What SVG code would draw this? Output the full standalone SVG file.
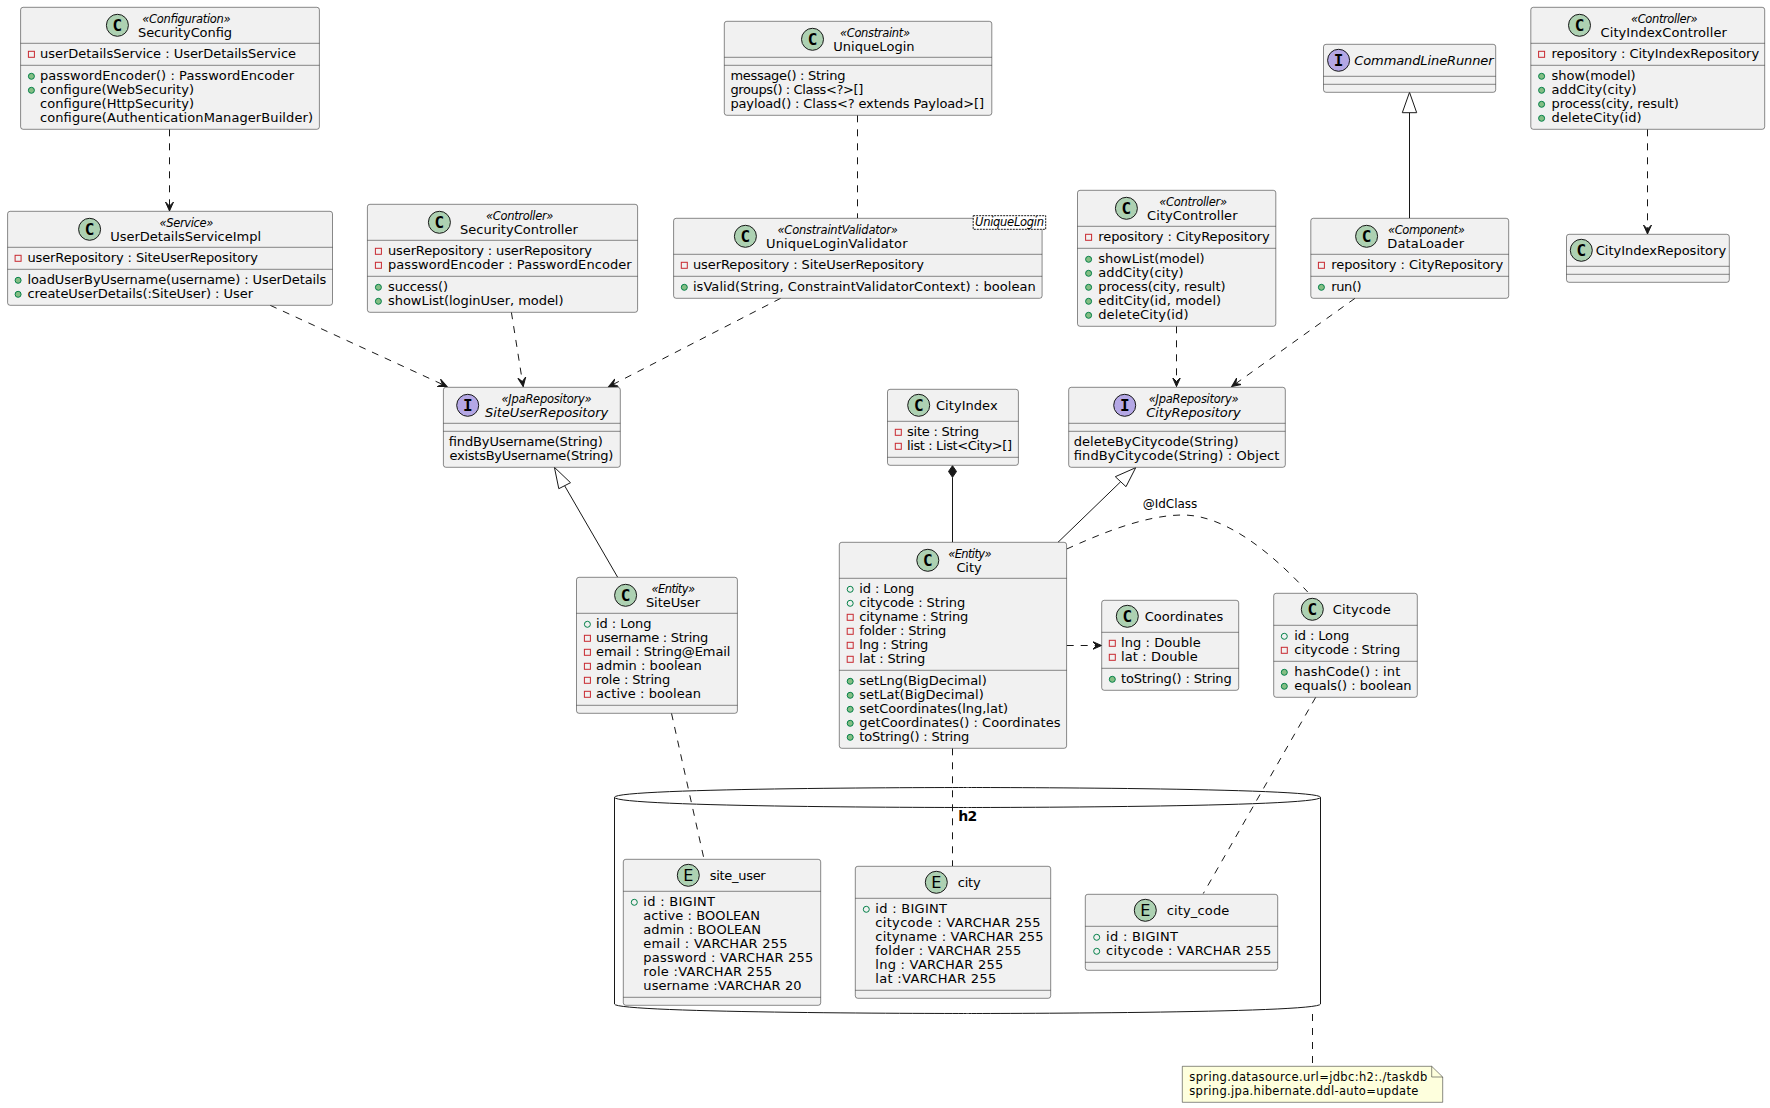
<svg xmlns="http://www.w3.org/2000/svg" width="1770" height="1108" viewBox="0 0 1770 1108">
<defs>
<marker id="open" markerUnits="userSpaceOnUse" markerWidth="10" markerHeight="10" refX="9" refY="5" orient="auto"><path d="M0,1 L9,5 L0,9 L4,5 Z" fill="#181818" stroke="#181818" stroke-width="1"/></marker>
</defs>
<style>
text{font-family:"DejaVu Sans",sans-serif;fill:#000}
.b{fill:#F1F1F1;stroke:#181818;stroke-width:.5}
.l{fill:none;stroke:#181818;stroke-width:.5}
.t{font-size:13px}
.n{font-size:13px}
.s{font-size:11.5px;font-style:italic}
.a{font-style:italic}
.c{fill:#ADD1B2;stroke:#181818;stroke-width:1}
.f{fill:#B4A7E5;stroke:#181818;stroke-width:1}
.g{font-family:"DejaVu Sans Mono",monospace;font-size:16px;font-weight:bold;text-anchor:middle}
.e{font-family:"DejaVu Sans",sans-serif;font-size:16px;text-anchor:middle}
.pr{fill:none;stroke:#C82930;stroke-width:1}
.pu{fill:#84BE84;stroke:#038048;stroke-width:1}
.pf{fill:none;stroke:#038048;stroke-width:1}
.solid{fill:none;stroke:#181818;stroke-width:1}
.dash{fill:none;stroke:#181818;stroke-width:1;stroke-dasharray:7 7}
.arrow{marker-end:url(#open)}
</style>

<g id="h2">
<path d="M614.5,797.3 C614.5,787.5 967.5,787.5 967.5,787.5 C967.5,787.5 1320.5,787.5 1320.5,797.3 L1320.5,1004 C1320.5,1013.5 967.5,1013.5 967.5,1013.5 C967.5,1013.5 614.5,1013.5 614.5,1004 Z" fill="#fff" stroke="#181818" stroke-width="1"/>
<path d="M614.5,797.3 C614.5,807.5 967.5,807.5 967.5,807.5 C967.5,807.5 1320.5,807.5 1320.5,797.3" fill="none" stroke="#181818" stroke-width="1"/>
<text x="958.3" y="820.7" font-size="14" font-weight="bold" textLength="19" lengthAdjust="spacing">h2</text>
</g>

<g id="connectors">
<path class="dash arrow" d="M169.5,129.3 L169.5,211"/>
<path class="dash arrow" d="M1647.5,129.3 L1647.5,234"/>
<path class="dash" d="M857.5,115.3 L857.5,218.3"/>
<path class="solid" d="M1409.5,218.3 L1409.5,112.7"/>
<polygon points="1409.5,92.3 1402.3,112.7 1416.7,112.7" fill="#fff" stroke="#181818" stroke-width="1"/>
<path class="dash arrow" d="M270.2,305.3 L447,386.5"/>
<path class="dash arrow" d="M511.4,312.3 L523.2,386.5"/>
<path class="dash arrow" d="M780.7,298.3 L608.6,386.7"/>
<path class="dash arrow" d="M1176.5,326.3 L1176.5,386.5"/>
<path class="dash arrow" d="M1355,298.3 L1231.7,386.5"/>
<path class="solid" d="M617.7,577.3 L564.6,485.7"/>
<polygon points="554.4,467.3 558.8,488.7 570.5,482.7" fill="#fff" stroke="#181818" stroke-width="1"/>
<path class="solid" d="M952.5,542.3 L952.5,477.3"/>
<polygon points="952.5,465.7 956.5,471.5 952.5,477.3 948.5,471.5" fill="#181818" stroke="#181818" stroke-width="1"/>
<path class="solid" d="M1058,542.3 L1120.7,481.7"/>
<polygon points="1135.7,467.7 1115.3,476.7 1126,486.7" fill="#fff" stroke="#181818" stroke-width="1"/>
<path class="dash" d="M1066.7,549 C1100,534 1145,515 1183,515 C1225,515 1272,553 1307.7,592"/>
<text x="1142.7" y="508.3" font-size="12" textLength="54.6" lengthAdjust="spacing">@IdClass</text>
<path class="dash arrow" d="M1066.7,645.5 L1101.5,645.5"/>
<path class="dash" d="M671.5,713.3 L704,859"/>
<path class="dash" d="M952.5,748.3 L952.5,866"/>
<path class="dash" d="M1315.7,697.3 L1203.3,893.5"/>
<path class="dash" d="M1312.5,1014 L1312.5,1066.3"/>
</g>

<g id="SecurityConfig">
<rect class="b" x="20.6" y="7.3" width="298.8" height="122" rx="2.5"/>
<path class="l" d="M20.6,43.3H319.4M20.6,65.3H319.4"/>
<circle class="c" cx="117.4" cy="25.3" r="11"/><text class="g" x="117.4" y="30.8">C</text>
<text class="s" x="142.3" y="22.5" textLength="88.3">«Configuration»</text>
<text class="n" x="138" y="36.6" textLength="94">SecurityConfig</text>
<rect class="pr" x="28.4" y="51.3" width="6" height="6"/>
<text class="t" x="40" y="58.4" textLength="256">userDetailsService : UserDetailsService</text>
<circle class="pu" cx="31.4" cy="76.3" r="3"/>
<text class="t" x="40" y="80.4" textLength="254">passwordEncoder() : PasswordEncoder</text>
<circle class="pu" cx="31.4" cy="90.3" r="3"/>
<text class="t" x="40" y="94.4" textLength="154">configure(WebSecurity)</text>
<text class="t" x="40" y="108.4" textLength="154">configure(HttpSecurity)</text>
<text class="t" x="40" y="122.4" textLength="273">configure(AuthenticationManagerBuilder)</text>
</g>

<g id="UserDetailsServiceImpl">
<rect class="b" x="7.6" y="211.3" width="324.9" height="94" rx="2.5"/>
<path class="l" d="M7.6,247.3H332.5M7.6,269.3H332.5"/>
<circle class="c" cx="89.6" cy="229.3" r="11"/><text class="g" x="89.6" y="234.8">C</text>
<text class="s" x="159.5" y="226.5" textLength="53.9">«Service»</text>
<text class="n" x="110.3" y="240.6" textLength="150.7">UserDetailsServiceImpl</text>
<rect class="pr" x="15.1" y="255.3" width="6" height="6"/>
<text class="t" x="27.4" y="262.4" textLength="230.6">userRepository : SiteUserRepository</text>
<circle class="pu" cx="18.1" cy="280.3" r="3"/>
<text class="t" x="27.4" y="284.4" textLength="299">loadUserByUsername(username) : UserDetails</text>
<circle class="pu" cx="18.1" cy="294.3" r="3"/>
<text class="t" x="27.4" y="298.4" textLength="225.6">createUserDetails(:SiteUser) : User</text>
</g>

<g id="SecurityController">
<rect class="b" x="367.4" y="204.3" width="270.2" height="108" rx="2.5"/>
<path class="l" d="M367.4,240.3H637.6M367.4,276.3H637.6"/>
<circle class="c" cx="439.4" cy="222.3" r="11"/><text class="g" x="439.4" y="227.8">C</text>
<text class="s" x="486" y="219.5" textLength="67.4">«Controller»</text>
<text class="n" x="460" y="233.6" textLength="117.9">SecurityController</text>
<rect class="pr" x="375.4" y="248.3" width="6" height="6"/>
<text class="t" x="388" y="255.4" textLength="204">userRepository : userRepository</text>
<rect class="pr" x="375.4" y="262.3" width="6" height="6"/>
<text class="t" x="388" y="269.4" textLength="243.7">passwordEncoder : PasswordEncoder</text>
<circle class="pu" cx="378.4" cy="287.3" r="3"/>
<text class="t" x="388" y="291.4" textLength="60">success()</text>
<circle class="pu" cx="378.4" cy="301.3" r="3"/>
<text class="t" x="388" y="305.4" textLength="175.5">showList(loginUser, model)</text>
</g>

<g id="UniqueLogin">
<rect class="b" x="724.3" y="21.3" width="267.5" height="94" rx="2.5"/>
<path class="l" d="M724.3,57.3H991.8M724.3,65.3H991.8"/>
<circle class="c" cx="812.5" cy="39.3" r="11"/><text class="g" x="812.5" y="44.8">C</text>
<text class="s" x="840" y="36.5" textLength="70">«Constraint»</text>
<text class="n" x="833.2" y="50.6" textLength="81.4">UniqueLogin</text>
<text class="t" x="730.4" y="80.4" textLength="115">message() : String</text>
<text class="t" x="730.4" y="94.4" textLength="132.9">groups() : Class&lt;?&gt;[]</text>
<text class="t" x="730.4" y="108.4" textLength="253.6">payload() : Class&lt;? extends Payload&gt;[]</text>
</g>

<g id="UniqueLoginValidator">
<rect class="b" x="673.6" y="218.3" width="368.5" height="80" rx="2.5"/>
<path class="l" d="M673.6,254.3H1042.1M673.6,276.3H1042.1"/>
<circle class="c" cx="745.4" cy="236.3" r="11"/><text class="g" x="745.4" y="241.8">C</text>
<text class="s" x="777.5" y="233.5" textLength="120.4">«ConstraintValidator»</text>
<text class="n" x="766" y="247.6" textLength="141.5">UniqueLoginValidator</text>
<rect class="pr" x="681.3" y="262.3" width="6" height="6"/>
<text class="t" x="692.9" y="269.4" textLength="231">userRepository : SiteUserRepository</text>
<circle class="pu" cx="684.3" cy="287.3" r="3"/>
<text class="t" x="692.9" y="291.4" textLength="342.9">isValid(String, ConstraintValidatorContext) : boolean</text>
<rect x="973.2" y="215.7" width="72.5" height="13.6" fill="#fff" stroke="#181818" stroke-width="1" stroke-dasharray="2 1"/>
<text class="s" x="975" y="226.2" textLength="69">UniqueLogin</text>
</g>

<g id="CityController">
<rect class="b" x="1077.5" y="190.3" width="198.3" height="136" rx="2.5"/>
<path class="l" d="M1077.5,226.3H1275.8M1077.5,248.3H1275.8"/>
<circle class="c" cx="1126.4" cy="208.3" r="11"/><text class="g" x="1126.4" y="213.8">C</text>
<text class="s" x="1159.3" y="205.5" textLength="67.7">«Controller»</text>
<text class="n" x="1147.1" y="219.6" textLength="90.4">CityController</text>
<rect class="pr" x="1085.6" y="234.3" width="6" height="6"/>
<text class="t" x="1098.2" y="241.4" textLength="171.6">repository : CityRepository</text>
<circle class="pu" cx="1088.6" cy="259.3" r="3"/>
<text class="t" x="1098.2" y="263.4" textLength="106.4">showList(model)</text>
<circle class="pu" cx="1088.6" cy="273.3" r="3"/>
<text class="t" x="1098.2" y="277.4" textLength="85.4">addCity(city)</text>
<circle class="pu" cx="1088.6" cy="287.3" r="3"/>
<text class="t" x="1098.2" y="291.4" textLength="127.3">process(city, result)</text>
<circle class="pu" cx="1088.6" cy="301.3" r="3"/>
<text class="t" x="1098.2" y="305.4" textLength="123">editCity(id, model)</text>
<circle class="pu" cx="1088.6" cy="315.3" r="3"/>
<text class="t" x="1098.2" y="319.4" textLength="90.4">deleteCity(id)</text>
</g>

<g id="CommandLineRunner">
<rect class="b" x="1323.5" y="44.3" width="172.2" height="48" rx="2.5"/>
<path class="l" d="M1323.5,76.3H1495.7M1323.5,84.3H1495.7"/>
<circle class="f" cx="1338.6" cy="60.3" r="11"/><text class="g" x="1338.6" y="65.8">I</text>
<text class="n a" x="1354.3" y="64.8" textLength="139.3">CommandLineRunner</text>
</g>

<g id="DataLoader">
<rect class="b" x="1310.8" y="218.3" width="197.9" height="80" rx="2.5"/>
<path class="l" d="M1310.8,254.3H1508.7M1310.8,276.3H1508.7"/>
<circle class="c" cx="1366.6" cy="236.3" r="11"/><text class="g" x="1366.6" y="241.8">C</text>
<text class="s" x="1388" y="233.5" textLength="76.8">«Component»</text>
<text class="n" x="1387.3" y="247.6" textLength="76.8">DataLoader</text>
<rect class="pr" x="1318.4" y="262.3" width="6" height="6"/>
<text class="t" x="1331.2" y="269.4" textLength="171.9">repository : CityRepository</text>
<circle class="pu" cx="1321.4" cy="287.3" r="3"/>
<text class="t" x="1331.2" y="291.4" textLength="30.5">run()</text>
</g>

<g id="CityIndexController">
<rect class="b" x="1530.8" y="7.3" width="233.9" height="122" rx="2.5"/>
<path class="l" d="M1530.8,43.3H1764.7M1530.8,65.3H1764.7"/>
<circle class="c" cx="1579.5" cy="25.3" r="11"/><text class="g" x="1579.5" y="30.8">C</text>
<text class="s" x="1631" y="22.5" textLength="66.7">«Controller»</text>
<text class="n" x="1600.6" y="36.6" textLength="126.2">CityIndexController</text>
<rect class="pr" x="1538.6" y="51.3" width="6" height="6"/>
<text class="t" x="1551.5" y="58.4" textLength="207.6">repository : CityIndexRepository</text>
<circle class="pu" cx="1541.6" cy="76.3" r="3"/>
<text class="t" x="1551.5" y="80.4" textLength="84.2">show(model)</text>
<circle class="pu" cx="1541.6" cy="90.3" r="3"/>
<text class="t" x="1551.5" y="94.4" textLength="85.2">addCity(city)</text>
<circle class="pu" cx="1541.6" cy="104.3" r="3"/>
<text class="t" x="1551.5" y="108.4" textLength="127.3">process(city, result)</text>
<circle class="pu" cx="1541.6" cy="118.3" r="3"/>
<text class="t" x="1551.5" y="122.4" textLength="90.1">deleteCity(id)</text>
</g>

<g id="CityIndexRepository">
<rect class="b" x="1566.5" y="234.3" width="162.8" height="48" rx="2.5"/>
<path class="l" d="M1566.5,266.3H1729.3M1566.5,274.3H1729.3"/>
<circle class="c" cx="1581.3" cy="250.3" r="11"/><text class="g" x="1581.3" y="255.8">C</text>
<text class="n" x="1595.7" y="254.8" textLength="130.4">CityIndexRepository</text>
</g>

<g id="SiteUserRepository">
<rect class="b" x="443.4" y="387.3" width="176.9" height="80" rx="2.5"/>
<path class="l" d="M443.4,423.3H620.3M443.4,431.3H620.3"/>
<circle class="f" cx="467.7" cy="405.3" r="11"/><text class="g" x="467.7" y="410.8">I</text>
<text class="s" x="501.5" y="402.5" textLength="90.2">«JpaRepository»</text>
<text class="n a" x="485" y="416.6" textLength="123.2">SiteUserRepository</text>
<text class="t" x="448.6" y="446.4" textLength="154">findByUsername(String)</text>
<text class="t" x="449.4" y="460.4" textLength="164">existsByUsername(String)</text>
</g>

<g id="CityIndex">
<rect class="b" x="887.5" y="389.3" width="130.9" height="76" rx="2.5"/>
<path class="l" d="M887.5,421.3H1018.4M887.5,457.3H1018.4"/>
<circle class="c" cx="918.7" cy="405.3" r="11"/><text class="g" x="918.7" y="410.8">C</text>
<text class="n" x="936" y="409.8" textLength="61.6">CityIndex</text>
<rect class="pr" x="895.3" y="429.3" width="6" height="6"/>
<text class="t" x="907" y="436.4" textLength="72">site : String</text>
<rect class="pr" x="895.3" y="443.3" width="6" height="6"/>
<text class="t" x="907" y="450.4" textLength="105">list : List&lt;City&gt;[]</text>
</g>

<g id="City">
<rect class="b" x="839.3" y="542.3" width="227.3" height="206" rx="2.5"/>
<path class="l" d="M839.3,578.3H1066.6M839.3,670.3H1066.6"/>
<circle class="c" cx="927.8" cy="560.3" r="11"/><text class="g" x="927.8" y="565.8">C</text>
<text class="s" x="948.2" y="557.5" textLength="43.4">«Entity»</text>
<text class="n" x="956.4" y="571.6" textLength="25.2">City</text>
<circle class="pf" cx="850.2" cy="589.3" r="3"/>
<text class="t" x="859.3" y="593.4" textLength="55">id : Long</text>
<circle class="pf" cx="850.2" cy="603.3" r="3"/>
<text class="t" x="859.3" y="607.4" textLength="106">citycode : String</text>
<rect class="pr" x="847.2" y="614.3" width="6" height="6"/>
<text class="t" x="859.3" y="621.4" textLength="109">cityname : String</text>
<rect class="pr" x="847.2" y="628.3" width="6" height="6"/>
<text class="t" x="859.3" y="635.4" textLength="87">folder : String</text>
<rect class="pr" x="847.2" y="642.3" width="6" height="6"/>
<text class="t" x="859.3" y="649.4" textLength="69">lng : String</text>
<rect class="pr" x="847.2" y="656.3" width="6" height="6"/>
<text class="t" x="859.3" y="663.4" textLength="66">lat : String</text>
<circle class="pu" cx="850.2" cy="681.3" r="3"/>
<text class="t" x="859.3" y="685.4" textLength="127.5">setLng(BigDecimal)</text>
<circle class="pu" cx="850.2" cy="695.3" r="3"/>
<text class="t" x="859.3" y="699.4" textLength="124.5">setLat(BigDecimal)</text>
<circle class="pu" cx="850.2" cy="709.3" r="3"/>
<text class="t" x="859.3" y="713.4" textLength="148.8">setCoordinates(lng,lat)</text>
<circle class="pu" cx="850.2" cy="723.3" r="3"/>
<text class="t" x="859.3" y="727.4" textLength="201.2">getCoordinates() : Coordinates</text>
<circle class="pu" cx="850.2" cy="737.3" r="3"/>
<text class="t" x="859.3" y="741.4" textLength="110">toString() : String</text>
</g>

<g id="SiteUser">
<rect class="b" x="576.5" y="577.3" width="160.9" height="136" rx="2.5"/>
<path class="l" d="M576.5,613.3H737.4M576.5,705.3H737.4"/>
<circle class="c" cx="625.6" cy="595.3" r="11"/><text class="g" x="625.6" y="600.8">C</text>
<text class="s" x="651.6" y="592.5" textLength="43.4">«Entity»</text>
<text class="n" x="645.9" y="606.6" textLength="54.2">SiteUser</text>
<circle class="pf" cx="587.4" cy="624.3" r="3"/>
<text class="t" x="596" y="628.4" textLength="55.5">id : Long</text>
<rect class="pr" x="584.4" y="635.3" width="6" height="6"/>
<text class="t" x="596" y="642.4" textLength="112.3">username : String</text>
<rect class="pr" x="584.4" y="649.3" width="6" height="6"/>
<text class="t" x="596" y="656.4" textLength="134.4">email : String@Email</text>
<rect class="pr" x="584.4" y="663.3" width="6" height="6"/>
<text class="t" x="596" y="670.4" textLength="105.8">admin : boolean</text>
<rect class="pr" x="584.4" y="677.3" width="6" height="6"/>
<text class="t" x="596" y="684.4" textLength="74.2">role : String</text>
<rect class="pr" x="584.4" y="691.3" width="6" height="6"/>
<text class="t" x="596" y="698.4" textLength="105">active : boolean</text>
</g>

<g id="CityRepository">
<rect class="b" x="1068.7" y="387.3" width="216.6" height="80" rx="2.5"/>
<path class="l" d="M1068.7,423.3H1285.3M1068.7,431.3H1285.3"/>
<circle class="f" cx="1124.7" cy="405.3" r="11"/><text class="g" x="1124.7" y="410.8">I</text>
<text class="s" x="1148.7" y="402.5" textLength="90">«JpaRepository»</text>
<text class="n a" x="1146.3" y="416.6" textLength="94.4">CityRepository</text>
<text class="t" x="1073.7" y="446.4" textLength="165">deleteByCitycode(String)</text>
<text class="t" x="1073.7" y="460.4" textLength="205.7">findByCitycode(String) : Object</text>
</g>

<g id="Coordinates">
<rect class="b" x="1101.7" y="600.3" width="137" height="90" rx="2.5"/>
<path class="l" d="M1101.7,632.3H1238.7M1101.7,668.3H1238.7"/>
<circle class="c" cx="1127.3" cy="616.3" r="11"/><text class="g" x="1127.3" y="621.8">C</text>
<text class="n" x="1144.7" y="620.8" textLength="78.6">Coordinates</text>
<rect class="pr" x="1109.3" y="640.3" width="6" height="6"/>
<text class="t" x="1121" y="647.4" textLength="79.7">lng : Double</text>
<rect class="pr" x="1109.3" y="654.3" width="6" height="6"/>
<text class="t" x="1121" y="661.4" textLength="76.7">lat : Double</text>
<circle class="pu" cx="1112.3" cy="679.3" r="3"/>
<text class="t" x="1121" y="683.4" textLength="110.7">toString() : String</text>
</g>

<g id="Citycode">
<rect class="b" x="1273.7" y="593.3" width="143.6" height="104" rx="2.5"/>
<path class="l" d="M1273.7,625.3H1417.3M1273.7,661.3H1417.3"/>
<circle class="c" cx="1312.3" cy="609.3" r="11"/><text class="g" x="1312.3" y="614.8">C</text>
<text class="n" x="1332.7" y="613.8" textLength="58">Citycode</text>
<circle class="pf" cx="1284.3" cy="636.3" r="3"/>
<text class="t" x="1294.3" y="640.4" textLength="55">id : Long</text>
<rect class="pr" x="1281.3" y="647.3" width="6" height="6"/>
<text class="t" x="1294.3" y="654.4" textLength="106">citycode : String</text>
<circle class="pu" cx="1284.3" cy="672.3" r="3"/>
<text class="t" x="1294.3" y="676.4" textLength="106">hashCode() : int</text>
<circle class="pu" cx="1284.3" cy="686.3" r="3"/>
<text class="t" x="1294.3" y="690.4" textLength="117.3">equals() : boolean</text>
</g>

<g id="site_user">
<rect class="b" x="623.3" y="859.3" width="197.4" height="146" rx="2.5"/>
<path class="l" d="M623.3,891.3H820.7M623.3,997.3H820.7"/>
<circle class="c" cx="688.3" cy="875.3" r="11"/><text class="e" x="688.3" y="881">E</text>
<text class="n" x="709.7" y="879.8" textLength="56">site_user</text>
<circle class="pf" cx="634.3" cy="902.3" r="3"/>
<text class="t" x="643.3" y="906.4" textLength="71.7">id : BIGINT</text>
<text class="t" x="643.3" y="920.4" textLength="116.7">active : BOOLEAN</text>
<text class="t" x="643.3" y="934.4" textLength="117.7">admin : BOOLEAN</text>
<text class="t" x="643.3" y="948.4" textLength="144.3">email : VARCHAR 255</text>
<text class="t" x="643.3" y="962.4" textLength="170">password : VARCHAR 255</text>
<text class="t" x="643.3" y="976.4" textLength="129">role :VARCHAR 255</text>
<text class="t" x="643.3" y="990.4" textLength="158.3">username :VARCHAR 20</text>
</g>

<g id="city">
<rect class="b" x="855.3" y="866.3" width="195.4" height="132" rx="2.5"/>
<path class="l" d="M855.3,898.3H1050.7M855.3,990.3H1050.7"/>
<circle class="c" cx="936.3" cy="882.3" r="11"/><text class="e" x="936.3" y="888">E</text>
<text class="n" x="957.7" y="886.8" textLength="23">city</text>
<circle class="pf" cx="866.3" cy="909.3" r="3"/>
<text class="t" x="875.3" y="913.4" textLength="71.7">id : BIGINT</text>
<text class="t" x="875.3" y="927.4" textLength="165.3">citycode : VARCHAR 255</text>
<text class="t" x="875.3" y="941.4" textLength="168.3">cityname : VARCHAR 255</text>
<text class="t" x="875.3" y="955.4" textLength="146">folder : VARCHAR 255</text>
<text class="t" x="875.3" y="969.4" textLength="128">lng : VARCHAR 255</text>
<text class="t" x="875.3" y="983.4" textLength="121">lat :VARCHAR 255</text>
</g>

<g id="city_code">
<rect class="b" x="1085.3" y="894.3" width="192.4" height="76" rx="2.5"/>
<path class="l" d="M1085.3,926.3H1277.7M1085.3,962.3H1277.7"/>
<circle class="c" cx="1145.3" cy="910.3" r="11"/><text class="e" x="1145.3" y="916">E</text>
<text class="n" x="1166.7" y="914.8" textLength="62.6">city_code</text>
<circle class="pf" cx="1096.7" cy="937.3" r="3"/>
<text class="t" x="1106" y="941.4" textLength="72">id : BIGINT</text>
<circle class="pf" cx="1096.7" cy="951.3" r="3"/>
<text class="t" x="1106" y="955.4" textLength="165.3">citycode : VARCHAR 255</text>
</g>

<g id="note">
<path d="M1182.3,1066.3 H1431.7 L1442.7,1077 V1102.3 H1182.3 Z" fill="#FEFFDD" stroke="#181818" stroke-width=".5"/>
<path d="M1431.7,1066.3 V1077 H1442.7" fill="none" stroke="#181818" stroke-width=".5"/>
<text x="1189.3" y="1081.3" font-size="11.5" textLength="238">spring.datasource.url=jdbc:h2:./taskdb</text>
<text x="1189.3" y="1094.7" font-size="11.5" textLength="229">spring.jpa.hibernate.ddl-auto=update</text>
</g>
</svg>
